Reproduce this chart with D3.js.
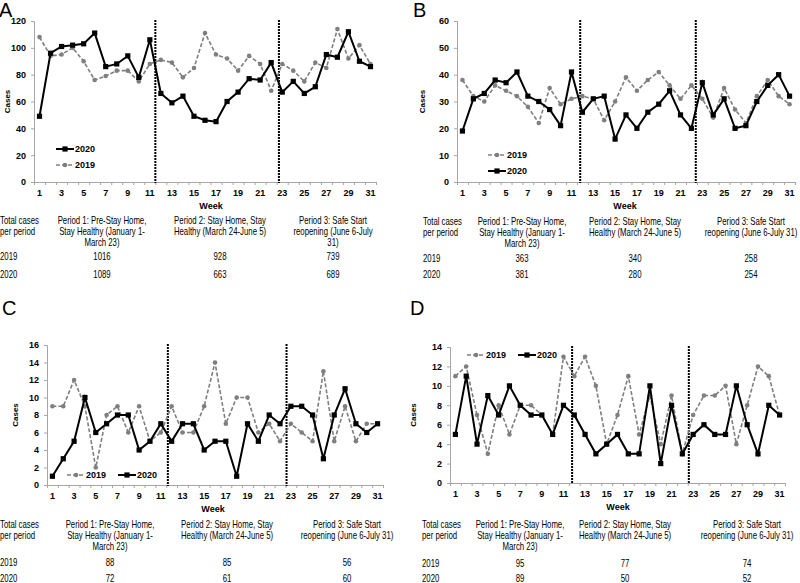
<!DOCTYPE html>
<html>
<head>
<meta charset="utf-8">
<script src="https://cdn.jsdelivr.net/npm/d3@7"></script>
<style>
  body { margin: 0; background: #fff; }
  svg { display: block; }
  text { font-family: "Liberation Sans", Arial, sans-serif; fill: #000; }
  .tick text { font-weight: bold; font-size: 9px; }
</style>
</head>
<body>
<svg id="chart" width="800" height="583"></svg>
<script>
// weeks on the x axis
const weeks = [1,2,3,4,5,6,7,8,9,10,11,12,13,14,15,16,17,18,19,20,21,22,23,24,25,26,27,28,29,30,31];
const weekLabels = [1,3,5,7,9,11,13,15,17,19,21,23,25,27,29,31];

// weekly cases
const casesA2019 = [108,94,95,100,90,76,79,83,83,75,88,91,89,78,85,111,95,92,83,94,88,68,88,83,75,89,85,114,92,102,88];
const casesA2020 = [49,96,101,102,103,111,86,88,94,78,106,66,59,64,49,46,45,60,67,77,76,89,67,75,66,71,95,93,112,90,86];
const casesB2019 = [38,32,30,36,34,32,28,22,35,29,31,32,31,23,30,39,34,38,41,36,31,36,31,24,35,27,22,32,38,32,29];
const casesB2020 = [19,31,33,38,37,41,32,30,27,21,41,26,31,32,16,25,20,26,29,34,25,20,37,25,31,20,21,30,36,40,32];
const casesC2019 = [9,9,12,9,2,8,9,6,9,5,6,9,6,6,9,14,7,10,10,6,7,5,7,6,5,13,5,9,5,7,7];
const casesC2020 = [1,3,5,10,6,7,8,8,4,5,7,5,7,7,4,5,5,1,7,5,8,7,9,9,8,3,8,11,7,6,7];
const casesD2019 = [11,12,7,3,8,5,8,8,7,5,13,11,13,10,4,7,11,5,9,4,9,3,7,9,9,10,4,8,12,11,7];
const casesD2020 = [5,11,4,9,7,10,8,7,7,5,8,7,5,3,4,5,3,3,10,2,8,3,5,6,5,5,10,6,3,8,7];

// period boundaries (in week-slot units from the axis start)
const dividersA = [11.0, 22.2];
const dividersB = [11.3, 21.9];
const dividersC = [11.15, 22.1];
const dividersD = [11.3, 22.1];

// table: totals per period
const totalsA2019 = [1016, 928, 739], totalsA2020 = [1089, 663, 689];
const totalsB2019 = [363, 340, 258],  totalsB2020 = [381, 280, 254];
const totalsC2019 = [88, 85, 56],     totalsC2020 = [72, 61, 60];
const totalsD2019 = [95, 77, 74],     totalsD2020 = [89, 50, 52];

const rowHeader = ["Total cases", "per period"];
const period1Head = ["Period 1: Pre-Stay Home,", "Stay Healthy (January 1-", "March 23)"];
const period2Head = ["Period 2: Stay Home, Stay", "Healthy (March 24-June 5)"];
const period3HeadA = ["Period 3: Safe Start", "reopening (June 6-July", "31)"];
const period3Head = ["Period 3: Safe Start", "reopening (June 6-July 31)"];

const svg = d3.select("#chart");
const gray = "#7f7f7f", axisGray = "#a6a6a6";

// narrow table text, squeezed horizontally like the original's condensed face
function tableText(parent, x, y, str, anchor) {
    parent.append("text")
        .attr("transform", "translate(" + x + "," + y + ") scale(0.78,1)")
        .attr("text-anchor", anchor || "start")
        .style("font-size", "10px")
        .text(str);
}

function drawPanel(cfg) {
    const g = svg.append("g");

    const x = d3.scaleBand().domain(weeks).range([cfg.x0, cfg.x1]);
    const xSlot = d3.scaleLinear().domain([0, weeks.length]).range([cfg.x0, cfg.x1]);
    const y = d3.scaleLinear().domain([0, cfg.yMax]).range([cfg.y0, cfg.y1]);
    const cx = (d, i) => x(weeks[i]) + x.bandwidth() / 2;

    // panel letter
    g.append("text").attr("x", cfg.lx).attr("y", cfg.ly)
        .style("font-size", "20px").text(cfg.label);

    // y axis
    const ya = g.append("g").attr("transform", "translate(" + cfg.x0 + ",0)")
        .call(d3.axisLeft(y).tickValues(d3.range(0, cfg.yMax + 1, cfg.yStep)).tickSize(3).tickPadding(5));
    ya.select(".domain").attr("stroke", axisGray);
    ya.selectAll(".tick line").attr("stroke", axisGray);

    // x axis: labels on odd weeks, ticks on slot boundaries
    const xa = g.append("g").attr("transform", "translate(0," + cfg.y0 + ")")
        .call(d3.axisBottom(x).tickValues(weekLabels).tickSize(0).tickPadding(8));
    xa.select(".domain").remove();
    const xt = g.append("g").attr("transform", "translate(0," + cfg.y0 + ")")
        .call(d3.axisBottom(xSlot).tickValues(d3.range(0, weeks.length + 1)).tickFormat("").tickSize(3).tickSizeOuter(0));
    xt.select(".domain").attr("stroke", axisGray);
    xt.selectAll(".tick line").attr("stroke", axisGray);

    // axis titles
    g.append("text")
        .attr("transform", "translate(" + cfg.yLabelX + "," + ((cfg.y0 + cfg.y1) / 2) + ") rotate(-90)")
        .attr("text-anchor", "middle").attr("dy", "0.35em")
        .style("font-weight", "bold").style("font-size", "8px").text("Cases");
    g.append("text").attr("x", cfg.weekX).attr("y", cfg.y0 + 27)
        .attr("text-anchor", "middle")
        .style("font-weight", "bold").style("font-size", "9px").text("Week");

    // period dividers
    g.selectAll(".divider").data(cfg.dividers).join("line")
        .attr("x1", d => xSlot(d)).attr("x2", d => xSlot(d))
        .attr("y1", cfg.y1 - 1).attr("y2", cfg.y0 + 1)
        .attr("stroke", "#000").attr("stroke-width", 2).attr("stroke-dasharray", "2,1");

    // 2019 series: gray dashed with circles
    const line = d3.line().x(cx).y(d => y(d));
    g.append("path").datum(cfg.s2019).attr("d", line)
        .attr("fill", "none").attr("stroke", gray).attr("stroke-width", 1.6).attr("stroke-dasharray", "4,2");
    g.selectAll(".c19").data(cfg.s2019).join("circle")
        .attr("cx", cx).attr("cy", d => y(d)).attr("r", 2.3).attr("fill", gray);

    // 2020 series: black solid with squares
    g.append("path").datum(cfg.s2020).attr("d", line)
        .attr("fill", "none").attr("stroke", "#000").attr("stroke-width", 2);
    g.selectAll(".s20").data(cfg.s2020).join("rect")
        .attr("x", (d, i) => cx(d, i) - 2.6).attr("y", d => y(d) - 2.6)
        .attr("width", 5.2).attr("height", 5.2).attr("fill", "#000");

    // legend
    cfg.legend.forEach(item => {
        const lg = g.append("g").attr("transform", "translate(" + item.x + "," + item.y + ")");
        if (item.year === "2019") {
            lg.append("line").attr("x1", 0).attr("x2", 18).attr("stroke", gray)
                .attr("stroke-width", 1.6).attr("stroke-dasharray", "4,2");
            lg.append("circle").attr("cx", 9).attr("r", 2.3).attr("fill", gray);
        } else {
            lg.append("line").attr("x1", 0).attr("x2", 18).attr("stroke", "#000").attr("stroke-width", 2);
            lg.append("rect").attr("x", 6.4).attr("y", -2.6).attr("width", 5.2).attr("height", 5.2).attr("fill", "#000");
        }
        lg.append("text").attr("x", 19).attr("dy", "0.35em")
            .style("font-weight", "bold").style("font-size", "9px").text(item.year);
    });

    // table below
    const t = cfg.table;
    const tg = g.append("g");
    rowHeader.forEach((s, i) => tableText(tg, t.left, t.headY + i * 11, s));
    [period1Head, period2Head, cfg.period3].forEach((lines, c) => {
        lines.forEach((s, i) => tableText(tg, t.cols[c], t.headY + i * 11, s, "middle"));
    });
    tableText(tg, t.left, t.row19Y, "2019");
    tableText(tg, t.left, t.row20Y, "2020");
    cfg.t2019.forEach((v, i) => tableText(tg, t.cols[i], t.row19Y, v, "middle"));
    cfg.t2020.forEach((v, i) => tableText(tg, t.cols[i], t.row20Y, v, "middle"));
}

drawPanel({
    label: "A", lx: -1, ly: 17,
    x0: 34, x1: 376, y0: 182, y1: 21, yMax: 120, yStep: 20,
    yLabelX: 7, weekX: 211,
    s2019: casesA2019, s2020: casesA2020, dividers: dividersA,
    legend: [{year: "2020", x: 56, y: 149}, {year: "2019", x: 56, y: 165}],
    table: {left: 0, cols: [102, 220, 333], headY: 224, row19Y: 260, row20Y: 278},
    period3: period3HeadA, t2019: totalsA2019, t2020: totalsA2020
});
drawPanel({
    label: "B", lx: 413, ly: 17,
    x0: 457, x1: 795, y0: 182, y1: 21, yMax: 60, yStep: 10,
    yLabelX: 422, weekX: 625,
    s2019: casesB2019, s2020: casesB2020, dividers: dividersB,
    legend: [{year: "2019", x: 488, y: 155}, {year: "2020", x: 488, y: 171}],
    table: {left: 423, cols: [522, 635, 751], headY: 225, row19Y: 262, row20Y: 278},
    period3: period3Head, t2019: totalsB2019, t2020: totalsB2020
});
drawPanel({
    label: "C", lx: 2, ly: 315,
    x0: 47, x1: 383, y0: 485, y1: 345, yMax: 16, yStep: 2,
    yLabelX: 15, weekX: 213,
    s2019: casesC2019, s2020: casesC2020, dividers: dividersC,
    legend: [{year: "2019", x: 67, y: 475}, {year: "2020", x: 118, y: 475}],
    table: {left: 0, cols: [110, 227, 347], headY: 528, row19Y: 566, row20Y: 582},
    period3: period3Head, t2019: totalsC2019, t2020: totalsC2020
});
drawPanel({
    label: "D", lx: 410, ly: 315,
    x0: 450, x1: 785, y0: 483, y1: 347, yMax: 14, yStep: 2,
    yLabelX: 413, weekX: 618,
    s2019: casesD2019, s2020: casesD2020, dividers: dividersD,
    legend: [{year: "2019", x: 467, y: 355}, {year: "2020", x: 518, y: 355}],
    table: {left: 422, cols: [520, 625, 747], headY: 528, row19Y: 567, row20Y: 582},
    period3: period3Head, t2019: totalsD2019, t2020: totalsD2020
});
</script>
</body>
</html>
